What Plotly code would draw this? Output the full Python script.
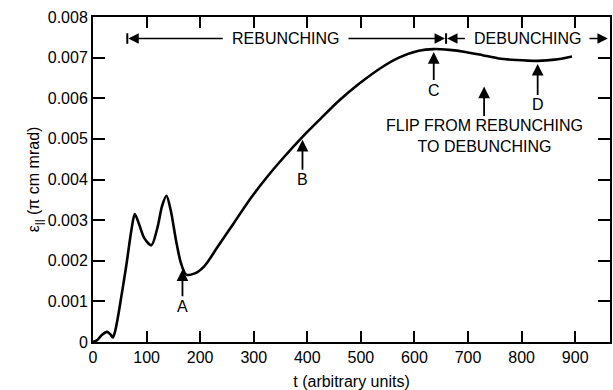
import numpy as np
import plotly.graph_objects as go

# ---- data ----
t = [0, 8, 17, 26, 33, 37, 41, 47, 53, 62, 72, 78, 86, 96, 109, 120, 129, 137,
     145, 155, 164, 174, 190, 208, 233, 264, 295, 326, 357, 391, 425, 460, 496,
     540, 571, 608, 636, 665, 695, 727, 757, 790, 830, 862, 894]
eps_e3 = [0, 0.05, 0.18, 0.25, 0.18, 0.11, 0.25, 0.65, 1.13, 1.87, 2.78, 3.15,
          2.9, 2.55, 2.38, 2.8, 3.35, 3.6, 3.25, 2.5, 1.95, 1.66, 1.69, 1.87,
          2.35, 2.95, 3.55, 4.08, 4.56, 5.05, 5.5, 5.95, 6.35, 6.77, 7.0, 7.17,
          7.21, 7.19, 7.14, 7.06, 6.98, 6.94, 6.92, 6.95, 7.03]
eps = [v / 1000 for v in eps_e3]

x_ticks = [0, 100, 200, 300, 400, 500, 600, 700, 800, 900]
y_ticks = [0, 0.001, 0.002, 0.003, 0.004, 0.005, 0.006, 0.007, 0.008]
y_ticktext = ["0", "0.001", "0.002", "0.003", "0.004", "0.005", "0.006", "0.007", "0.008"]

point_labels = ["A", "B", "C", "D"]
point_t = [167, 391, 636, 830]

flip_t = 730
flip_eps = 0.00629
flip_text = "FLIP FROM REBUNCHING<br>TO DEBUNCHING"

phase_names = ["REBUNCHING", "DEBUNCHING"]
phase_bounds = [64, 659, 963]
phase_label_t = [361, 812]
phase_eps = 0.00747

FONT = "Liberation Sans, Arial, Helvetica, sans-serif"

fig = go.Figure()
fig.add_trace(go.Scatter(x=t, y=eps, mode="lines",
                         line=dict(color="black", width=2.6, shape="spline", smoothing=0.8),
                         hoverinfo="skip", showlegend=False))

# point arrows A-D
label_offsets = [40, 43, 41, 44]
for lab, tt, off in zip(point_labels, point_t, label_offsets):
    yy = float(np.interp(tt, t, eps))
    fig.add_annotation(x=tt, y=yy, text=lab, showarrow=True, ax=0, ay=off,
                       arrowhead=2, arrowsize=1.3, arrowwidth=1.8, arrowcolor="black",
                       standoff=3, font=dict(family=FONT, size=16, color="black"))

fig.add_annotation(x=flip_t, y=flip_eps, text=flip_text, showarrow=True, ax=0, ay=50,
                   arrowhead=2, arrowsize=1.3, arrowwidth=1.8, arrowcolor="black",
                   font=dict(family=FONT, size=16, color="black"),
                   align="center")

# phase bracket
gaps = [(245, 474), (697, 924)]
for name, lt, (g0, g1), a, b in zip(phase_names, phase_label_t, gaps,
                                     phase_bounds[:-1], phase_bounds[1:]):
    fig.add_annotation(x=lt, y=phase_eps, text=name, showarrow=False,
                       font=dict(family=FONT, size=16, color="black"))
    fig.add_annotation(x=a + 2, y=phase_eps, ax=g0, ay=phase_eps, axref="x", ayref="y",
                       text="", showarrow=True, arrowhead=2, arrowsize=1.3,
                       arrowwidth=1.6, arrowcolor="black")
    fig.add_annotation(x=b - 2, y=phase_eps, ax=g1, ay=phase_eps, axref="x", ayref="y",
                       text="", showarrow=True, arrowhead=2, arrowsize=1.3,
                       arrowwidth=1.6, arrowcolor="black")

for bnd in phase_bounds[:2]:
    fig.add_shape(type="line", x0=bnd, x1=bnd, y0=phase_eps - 0.00013,
                  y1=phase_eps + 0.00013, line=dict(color="black", width=2))

axis_common = dict(showgrid=False, zeroline=False, showline=True, linecolor="black",
                   linewidth=2, mirror="ticks", ticks="inside", tickcolor="black",
                   tickwidth=2, tickfont=dict(family=FONT, size=16, color="black"))

fig.update_xaxes(range=[0, 965], tickvals=x_ticks, ticklen=11,
                 title=dict(text="t (arbitrary units)", font=dict(family=FONT, size=16, color="black"),
                            standoff=11),
                 **axis_common)
fig.update_yaxes(range=[0, 0.008], tickvals=y_ticks, ticktext=y_ticktext, ticklen=12,
                 ticksuffix=" ",
                 title=dict(text="ε<sub>||</sub> (π cm mrad)", font=dict(family=FONT, size=16, color="black"),
                            standoff=4),
                 **axis_common)

fig.update_layout(width=613, height=390, margin=dict(l=93, r=1, t=17, b=48),
                  plot_bgcolor="white", paper_bgcolor="white",
                  font=dict(family=FONT, color="black"))

fig.write_html("out.html")
